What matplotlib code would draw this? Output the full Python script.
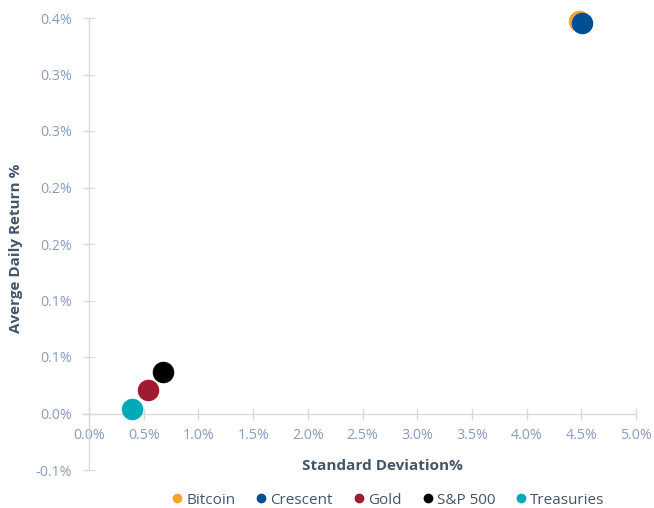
import matplotlib
matplotlib.use("Agg")
import matplotlib.pyplot as plt
from matplotlib.lines import Line2D

plt.rcParams['font.family'] = ['Open Sans', 'DejaVu Sans']

names = ["Bitcoin", "Crescent", "Gold", "S&P 500", "Treasuries"]
std_dev = [4.48, 4.51, 0.54, 0.68, 0.39]
avg_return = [0.347, 0.346, 0.0205, 0.0365, 0.004]
colors = ["#f7a231", "#004f94", "#9e1b32", "#000000", "#00a9b7"]

x_ticks = [0.0, 0.5, 1.0, 1.5, 2.0, 2.5, 3.0, 3.5, 4.0, 4.5, 5.0]
x_tick_labels = ["0.0%", "0.5%", "1.0%", "1.5%", "2.0%", "2.5%", "3.0%", "3.5%", "4.0%", "4.5%", "5.0%"]
y_ticks = [-0.05, 0.0, 0.05, 0.10, 0.15, 0.20, 0.25, 0.30, 0.35]
y_tick_labels = ["-0.1%", "0.0%", "0.1%", "0.1%", "0.2%", "0.2%", "0.3%", "0.3%", "0.4%"]

tick_color = "#8a9cba"
title_color = "#44546a"
axis_color = "#dadada"

fig = plt.figure(figsize=(6.54, 5.08), dpi=100)
ax = fig.add_axes([82 / 654, 1 - 470 / 508, (636 - 82) / 654, 452 / 508])

for n, x, y, c in zip(names, std_dev, avg_return, colors):
    ax.scatter(x, y, s=240, color=c, zorder=3, linewidths=0, clip_on=False)

ax.set_xlim(-0.065, 5.0)
ax.set_ylim(-0.05, 0.35)

for s in ["top", "right"]:
    ax.spines[s].set_visible(False)
ax.spines["left"].set_position(("data", 0))
ax.spines["bottom"].set_position(("data", 0))
for s in ["left", "bottom"]:
    ax.spines[s].set_color(axis_color)
    ax.spines[s].set_linewidth(1.0)

ax.set_xticks(x_ticks)
ax.set_xticklabels(x_tick_labels)
ax.set_yticks(y_ticks)
ax.set_yticklabels(y_tick_labels)
ax.tick_params(axis="x", direction="inout", length=9, width=1.0, color=axis_color,
               labelcolor=tick_color, labelsize=10.3, pad=6)
ax.tick_params(axis="y", direction="inout", length=9, width=1.0, color=axis_color,
               labelcolor=tick_color, labelsize=10.3, pad=8)
for lbl in ax.get_xticklabels():
    lbl.set_clip_on(False)

fig.text(382 / 654, 1 - 466 / 508, "Standard Deviation%", ha="center", va="center",
         fontsize=11, fontweight="bold", color=title_color)
fig.text(16 / 654, 1 - 248 / 508, "Averge Daily Return %", ha="center", va="center",
         rotation=90, fontsize=11, fontweight="bold", color=title_color)

handles = [Line2D([0], [0], marker="o", linestyle="none", markersize=6,
                  markerfacecolor=c, markeredgecolor=c) for c in colors]
fig.legend(handles, names, loc="center", bbox_to_anchor=(387 / 654, 1 - 500 / 508),
           ncol=5, frameon=False, fontsize=11, handletextpad=0.1, columnspacing=1.2,
           handlelength=1.0, labelcolor=title_color, borderaxespad=0)

fig.savefig("out.png", dpi=100)
